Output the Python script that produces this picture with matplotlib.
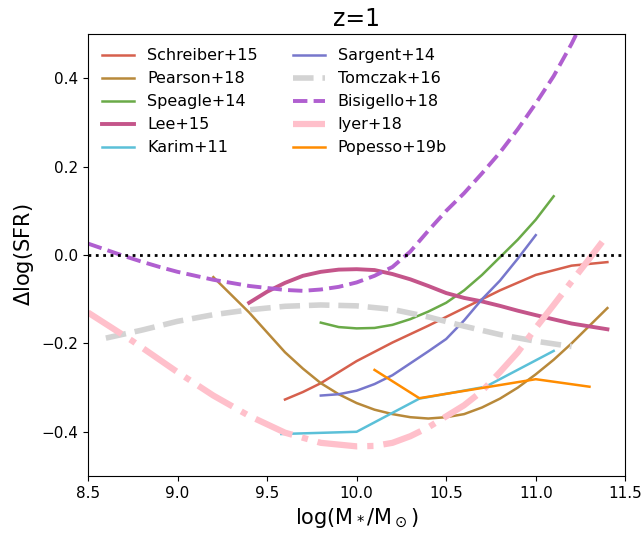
import matplotlib
matplotlib.use("Agg")
from matplotlib import pyplot as plt

# main sequence offsets at z=1
schreiber_x = [9.6, 9.7, 9.8, 9.9, 10.0, 10.2, 10.4, 10.6, 10.8, 11.0, 11.2, 11.4]
schreiber_y = [-0.327, -0.31, -0.29, -0.265, -0.24, -0.198, -0.16, -0.12, -0.08, -0.045, -0.024, -0.016]

pearson_x = [9.2, 9.3, 9.4, 9.5, 9.6, 9.7, 9.8, 9.9, 10.0, 10.1, 10.2, 10.3, 10.4, 10.5,
             10.6, 10.7, 10.8, 10.9, 11.0, 11.1, 11.2, 11.3, 11.4]
pearson_y = [-0.05, -0.09, -0.13, -0.175, -0.22, -0.257, -0.29, -0.315, -0.335, -0.35, -0.36,
             -0.367, -0.37, -0.367, -0.36, -0.345, -0.325, -0.3, -0.27, -0.237, -0.2, -0.16, -0.12]

speagle_x = [9.8, 9.9, 10.0, 10.1, 10.2, 10.3, 10.4, 10.5, 10.6, 10.7, 10.8, 10.9, 11.0, 11.1]
speagle_y = [-0.153, -0.163, -0.166, -0.165, -0.158, -0.145, -0.128, -0.108, -0.08, -0.045,
             -0.005, 0.035, 0.08, 0.133]

lee_x = [9.4, 9.5, 9.6, 9.7, 9.8, 9.9, 10.0, 10.1, 10.2, 10.3, 10.4, 10.5, 10.6, 10.7,
         10.8, 10.9, 11.0, 11.2, 11.4]
lee_y = [-0.108, -0.083, -0.063, -0.047, -0.038, -0.033, -0.032, -0.034, -0.043, -0.055,
         -0.07, -0.086, -0.097, -0.105, -0.115, -0.126, -0.136, -0.155, -0.168]

karim_x = [9.58, 10.0, 10.35, 10.72, 11.1]
karim_y = [-0.405, -0.40, -0.325, -0.298, -0.217]

sargent_x = [9.8, 9.9, 10.0, 10.1, 10.2, 10.3, 10.4, 10.5, 10.6, 10.7, 10.8, 10.9, 11.0]
sargent_y = [-0.318, -0.315, -0.307, -0.292, -0.272, -0.245, -0.218, -0.19, -0.148, -0.1,
             -0.058, -0.008, 0.045]

tomczak_x = [8.6, 8.8, 9.0, 9.2, 9.4, 9.6, 9.8, 10.0, 10.2, 10.4, 10.6, 10.8, 11.0, 11.2]
tomczak_y = [-0.188, -0.17, -0.15, -0.135, -0.124, -0.116, -0.113, -0.115, -0.123, -0.14,
             -0.161, -0.18, -0.195, -0.207]

bisigello_x = [8.5, 8.6, 8.7, 8.8, 8.9, 9.0, 9.2, 9.4, 9.6, 9.7, 9.8, 9.9, 10.0, 10.1, 10.2,
               10.3, 10.4, 10.5, 10.6, 10.7, 10.8, 10.9, 11.0, 11.1, 11.2, 11.3]
bisigello_y = [0.026, 0.012, -0.002, -0.015, -0.027, -0.038, -0.056, -0.07, -0.079, -0.081,
               -0.078, -0.072, -0.062, -0.047, -0.027, 0.008, 0.055, 0.1, 0.14, 0.185, 0.232,
               0.285, 0.343, 0.405, 0.478, 0.56]

iyer_x = [8.5, 8.75, 9.0, 9.2, 9.4, 9.6, 9.8, 10.0, 10.1, 10.2, 10.3, 10.4, 10.5, 10.6, 10.7,
          10.8, 10.9, 11.0, 11.1, 11.2, 11.3, 11.4]
iyer_y = [-0.13, -0.195, -0.265, -0.318, -0.364, -0.402, -0.425, -0.433, -0.432, -0.425, -0.41,
          -0.39, -0.365, -0.34, -0.308, -0.265, -0.22, -0.165, -0.113, -0.06, -0.008, 0.045]

popesso_x = [10.1, 10.35, 11.0, 11.3]
popesso_y = [-0.26, -0.324, -0.281, -0.298]

xticks = [8.5, 9.0, 9.5, 10.0, 10.5, 11.0, 11.5]
yticks = [-0.4, -0.2, 0.0, 0.2, 0.4]

fig = plt.figure(figsize=(6.42, 5.33), dpi=100)
ax = fig.add_axes([0.137, 0.107, 0.837, 0.829])

ax.plot(schreiber_x, schreiber_y, color='#d6604d', lw=1.8, label='Schreiber+15')
ax.plot(pearson_x, pearson_y, color='#b8893a', lw=1.8, label='Pearson+18')
ax.plot(speagle_x, speagle_y, color='#6aaa48', lw=1.8, label='Speagle+14')
ax.plot(lee_x, lee_y, color='#c4558a', lw=2.8, label='Lee+15')
ax.plot(karim_x, karim_y, color='#5bc0d8', lw=1.8, label='Karim+11')
ax.plot(sargent_x, sargent_y, color='#7777cc', lw=1.8, label='Sargent+14')
ax.plot(tomczak_x, tomczak_y, color='#d3d3d3', lw=4, ls='--', label='Tomczak+16')
ax.plot(bisigello_x, bisigello_y, color='#b05fd0', lw=2.8, ls='--', label='Bisigello+18')
ax.plot(iyer_x, iyer_y, color='#ffc0cb', lw=4.5, ls='-.', label='Iyer+18')
ax.plot(popesso_x, popesso_y, color='#ff8c00', lw=1.8, label='Popesso+19b')
ax.axhline(0, color='k', ls=':', lw=2)

ax.set_xlim(8.5, 11.5)
ax.set_ylim(-0.5, 0.5)
ax.set_xticks(xticks)
ax.set_yticks(yticks)
ax.tick_params(labelsize=11)
ax.set_xlabel(r'log(M$_*$/M$_\odot$)', fontsize=15)
ax.set_ylabel(r'$\Delta$log(SFR)', fontsize=15)
ax.set_title('z=1', fontsize=17)
ax.legend(loc='upper left', ncol=2, frameon=False, fontsize=11.5, columnspacing=2.2)

fig.savefig('out.png', dpi=100)
